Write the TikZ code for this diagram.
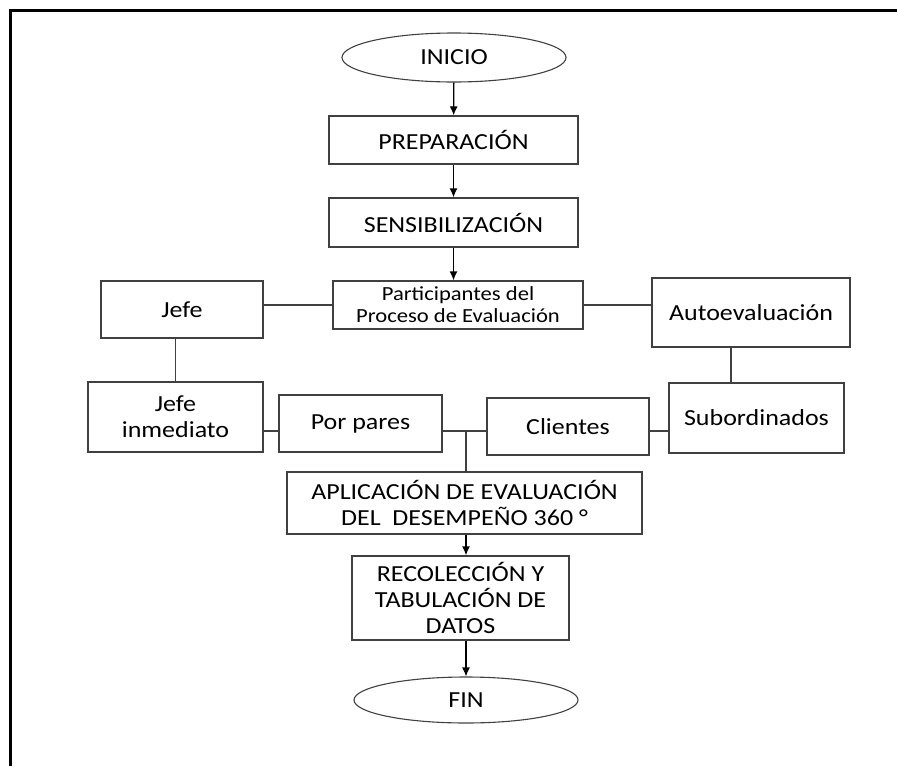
\documentclass[tikz,border=0pt]{standalone}
\usepackage{fontspec}
\setmainfont{Carlito}[FakeStretch=1.13]
\usetikzlibrary{shapes.geometric,arrows.meta}

\begin{document}
\begin{tikzpicture}[
  x=1pt, y=-1pt,
  block/.style={rectangle, draw=black!75, line width=1.3pt, inner sep=0pt,
                minimum width=#1, align=center,
                font=\fontsize{23}{26}\selectfont},
  block/.default={249pt},
  term/.style={ellipse, draw=black!75, line width=1.1pt, inner sep=0pt,
               minimum width=224pt, font=\fontsize{23}{26}\selectfont},
  lin/.style={draw=black!75, line width=1.3pt},
  arr/.style={draw=black, line width=1.3pt, -{Latex[length=9pt,width=8pt]}}
]
  \useasboundingbox (0,0) rectangle (897,766);
  \draw[line width=3pt] (10,766) -- (10,10) -- (897,10);

  \node[term, minimum height=49pt] (ini) at (454,57.5) {INICIO};
  \node[block, minimum height=48pt] (prep) at (453.5,140) {PREPARACIÓN};
  \node[block, minimum height=49pt] (sens) at (453.5,222.5) {SENSIBILIZACIÓN};
  \node[block=250pt, minimum height=48pt, font=\fontsize{20}{22}\selectfont]
    (part) at (458,305) {Participantes del\\Proceso de Evaluación};
  \node[block=162pt, minimum height=57pt] (jefe) at (182,309.5) {Jefe};
  \node[block=198pt, minimum height=69pt] (auto) at (751,312.5) {Autoevaluación};
  \node[block=175pt, minimum height=70pt] (jinm) at (175.5,417) {Jefe\\inmediato};
  \node[block=163pt, minimum height=57pt] (pares) at (360.5,423.5) {Por pares};
  \node[block=162pt, minimum height=57pt] (cli) at (568,426.5) {Clientes};
  \node[block=175pt, minimum height=70pt] (sub) at (756.5,418) {Subordinados};
  \node[block=355pt, minimum height=62pt] (apl) at (464.5,503)
    {APLICACIÓN DE EVALUACIÓN\\DEL\ \ DESEMPEÑO 360 °};
  \node[block=217pt, minimum height=84pt] (rec) at (460.5,598)
    {RECOLECCIÓN Y\\TABULACIÓN DE\\DATOS};
  \node[term, minimum height=46pt] (fin) at (466,700) {FIN};

  \coordinate (junta) at (466,431);

  \draw[arr] (ini) -- (prep);
  \draw[arr] (prep) -- (sens);
  \draw[arr] (sens.south) -- (sens.south |- part.north);

  % Participantes
  \draw[lin] (part.west) -- (part.west -| jefe.east);
  \draw[lin] (part.east) -- (part.east -| auto.west);
  \draw[lin] (jefe.south -| jinm) -- (jinm.north);
  \draw[lin] ([xshift=-20pt]auto.south) -- ([xshift=-20pt]auto.south |- sub.north);
  \draw[lin] (jinm.east |- junta) -- (pares.west |- junta);
  \draw[lin] (pares.east |- junta) -- (cli.west |- junta);
  \draw[lin] (cli.east |- junta) -- (sub.west |- junta);
  \draw[lin] (junta) -- (junta |- apl.north);

  \draw[arr] (apl.south -| junta) -- (junta |- rec.north);
  \draw[arr] (rec.south -| fin) -- (fin);
\end{tikzpicture}
\end{document}
